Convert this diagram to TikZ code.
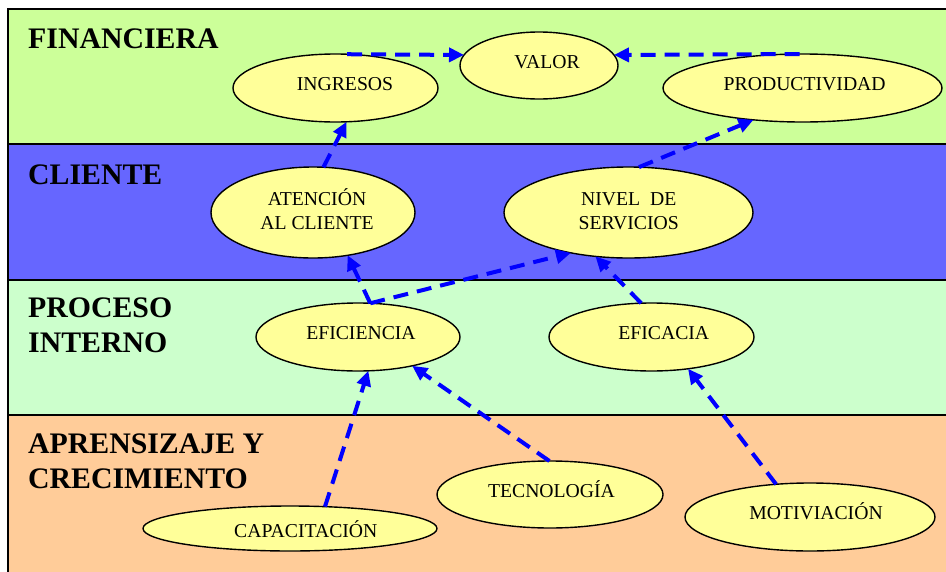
\documentclass[tikz,border=0pt]{standalone}
\usepackage{fontspec}
\setmainfont{Liberation Serif}
\usetikzlibrary{shapes.geometric,arrows.meta}
\definecolor{finband}{HTML}{CCFF99}
\definecolor{cliband}{HTML}{6666FF}
\definecolor{proband}{HTML}{CCFFCC}
\definecolor{aprband}{HTML}{FFCC99}
\definecolor{ovalfill}{HTML}{FFFF99}
\definecolor{linkblue}{HTML}{0000FF}
\begin{document}
\begin{tikzpicture}[x=1pt,y=-1pt,
  band/.style={draw=black, line width=2pt},
  head/.style={anchor=base west, font=\fontsize{29.8}{35}\selectfont\bfseries, align=left, inner sep=0pt},
  oval/.style={ellipse, draw=black, line width=1.4pt, fill=ovalfill, inner sep=0pt, outer sep=0pt},
  lbl/.style={anchor=base, font=\fontsize{19.7}{23.3}\selectfont, align=center, inner sep=0pt},
  link/.style={draw=linkblue, line width=4pt, dash pattern=on 15pt off 9pt,
    -{Triangle[length=15pt,width=14pt]}}
]
\useasboundingbox (0,0) rectangle (946,571);
\fill[white] (0,0) rectangle (946,571);

% perspective bands
\draw[band, fill=finband] (8,9) rectangle (960,144);
\draw[band, fill=cliband] (8,144) rectangle (960,280);
\draw[band, fill=proband] (8,280) rectangle (960,415);
\draw[band, fill=aprband] (8,415) rectangle (960,590);

% band titles (multi-line nodes sit on their last baseline)
\node[head] (hfin) at (28,48.3) {FINANCIERA};
\node[head] (hcli) at (28,184) {CLIENTE};
\node[head] (hpro) at (28,352.7) {PROCESO\\INTERNO};
\node[head] (hapr) at (28,488.3) {APRENSIZAJE Y\\CRECIMIENTO};

% objectives
\node[oval, minimum width=205pt, minimum height=68pt] (ing) at (335.5,88) {};
\node[oval, minimum width=158pt, minimum height=67pt] (val) at (539,65.5) {};
\node[oval, minimum width=279pt, minimum height=68pt] (prod) at (802.5,88) {};
\node[oval, minimum width=204pt, minimum height=91pt] (aten) at (313,212.5) {};
\node[oval, minimum width=249pt, minimum height=91pt] (niv) at (628.5,212.5) {};
\node[oval, minimum width=204pt, minimum height=68pt] (efi) at (358,337) {};
\node[oval, minimum width=205pt, minimum height=68pt] (efc) at (651.5,337) {};
\node[oval, minimum width=294pt, minimum height=45pt] (cap) at (290,528.5) {};
\node[oval, minimum width=226pt, minimum height=67pt] (tec) at (550,494.5) {};
\node[oval, minimum width=250pt, minimum height=68pt] (mot) at (810,517) {};

% objective names
\node[lbl] (ingt) at (345,90.7) {INGRESOS};
\node[lbl] (valt) at (547,68) {VALOR};
\node[lbl] (prodt) at (804.7,90.7) {PRODUCTIVIDAD};
\node[lbl] (atent) at (317,229) {ATENCIÓN\\AL CLIENTE};
\node[lbl] (nivt) at (628.7,229) {NIVEL\ \ DE\\SERVICIOS};
\node[lbl] (efit) at (361,339.3) {EFICIENCIA};
\node[lbl] (efct) at (663.8,339.3) {EFICACIA};
\node[lbl] (capt) at (305.8,537.7) {CAPACITACIÓN};
\node[lbl] (tect) at (551.5,497.3) {TECNOLOGÍA};
\node[lbl] (mott) at (816,519) {MOTIVIACIÓN};

% cause-effect links
\draw[link] (ing.71) -- (val.172);
\draw[link] (prod.95) -- (val.8);
\draw[link] (aten.77) -- (ing.-72);
\draw[link] (niv.77) -- (prod.213);
\draw[link] (efi.70) -- (aten.-51);
\draw[link] (efi.70) -- (niv.215);
\draw[link] (efc.107) -- (niv.233.5);
\draw[link] (cap.32) -- (efi.-73);
\draw[link] (tec.91) -- (efi.-28);
\draw[link] (mot.136) -- (efc.-41);
\end{tikzpicture}
\end{document}
